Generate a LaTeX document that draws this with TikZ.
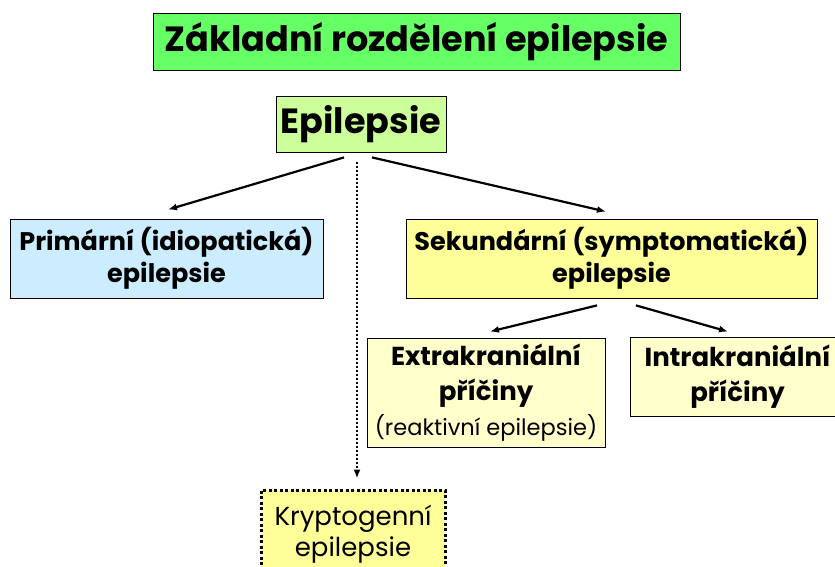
\documentclass[tikz,border=0pt]{standalone}
\usepackage{fontspec}
\setmainfont{Poppins}
\usepackage{xcolor}
\definecolor{cTitle}{HTML}{66FF66}
\definecolor{cEpi}{HTML}{CCFF99}
\definecolor{cPrim}{HTML}{CCECFF}
\definecolor{cSek}{HTML}{FFFF99}
\definecolor{cPric}{HTML}{FFFFCC}
\usepackage{tikz}
\usetikzlibrary{arrows.meta, positioning}

\begin{document}
\begin{tikzpicture}[
  x=1pt, y=-1pt,
  box/.style={rectangle, draw=black, line width=0.8pt, align=center, inner sep=0pt},
  head/.style={box, font=\fontsize{35}{40}\selectfont\bfseries},
  kind/.style={box, font=\fontsize{25.5}{32}\selectfont\bfseries},
  cause/.style={box, fill=cPric, font=\fontsize{26}{35}\selectfont\bfseries},
  crypt/.style={box, fill=cSek, draw=black, line width=3pt, dash pattern=on 3pt off 2.5pt,
                font=\fontsize{26}{31}\selectfont},
  ar/.style={-{Latex[length=9pt, width=7pt]}, draw=black, line width=2.2pt}
]
\useasboundingbox (0,0) rectangle (835,567);
\node[head, fill=cTitle, minimum width=527pt, minimum height=57pt] (title) at (416.5,41.5) {Základní rozdělení epilepsie};
\node[head, fill=cEpi, minimum width=170pt, minimum height=56pt] (epi) at (361,124) {Epilepsie};
\node[kind, fill=cPrim, minimum width=313pt, minimum height=79pt] (prim) at (166.5,258.5) {Primární (idiopatická)\\epilepsie};
\node[kind, fill=cSek, minimum width=411pt, minimum height=79pt] (sek) at (611.5,258.5) {Sekundární (symptomatická)\\epilepsie};
\node[cause, minimum width=238pt, minimum height=109pt] (extra) at (486,392.5) {Extrakraniální\\příčiny\\{\fontsize{22.5}{28}\selectfont\mdseries (reaktivní epilepsie)}};
\node[cause, minimum width=215pt, minimum height=79pt] (intra) at (737.5,376.5) {Intrakraniální\\příčiny};
\node[crypt, minimum width=184pt, minimum height=88pt] (krypt) at (353,534) {Kryptogenní\\epilepsie};

\draw[ar] ([xshift=-17pt, yshift=-5pt]epi.south) -- ([xshift=1.5pt, yshift=9pt]prim.north);
\draw[ar] ([xshift=11pt, yshift=-5pt]epi.south) -- ([xshift=-5.5pt, yshift=7pt]sek.north);
\draw[ar, line width=2.5pt, dash pattern=on 2pt off 2pt] ([xshift=-4pt, yshift=-10pt]epi.south) -- ([xshift=4pt, yshift=10pt]krypt.north);
\draw[ar] ([xshift=-14.5pt, yshift=-7pt]sek.south) -- ([xshift=4pt, yshift=6pt]extra.north);
\draw[ar] ([xshift=24.5pt, yshift=-7pt]sek.south) -- ([xshift=-9.5pt, yshift=5pt]intra.north);
\end{tikzpicture}
\end{document}
